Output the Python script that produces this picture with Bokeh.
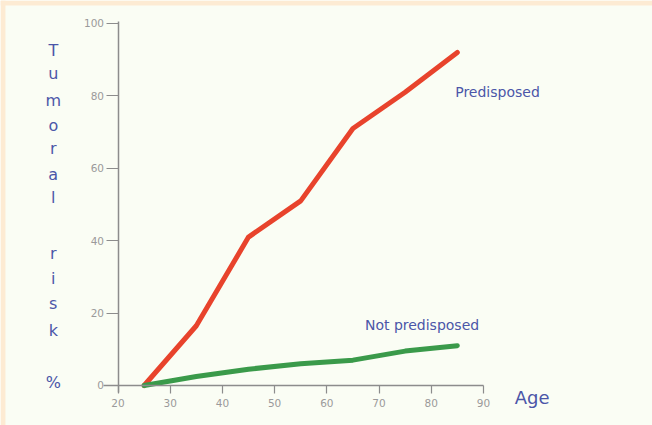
from bokeh.plotting import figure
from bokeh.models import Range1d, FixedTicker, Label, LabelSet, ColumnDataSource, LinearAxis, BoxAnnotation
from bokeh.core.properties import value
from bokeh.embed import file_html
from bokeh.resources import INLINE

# Data
ages = [25, 35, 45, 55, 65, 75, 85]
predisposed = [0, 16.5, 41, 51, 71, 81, 92]
not_predisposed = [0, 2.5, 4.5, 6, 7, 9.5, 11]
x_ticks = [20, 30, 40, 50, 60, 70, 80, 90]
y_ticks = [0, 20, 40, 60, 80, 100]

title_letters = ["T", "u", "m", "o", "r", "a", "l", "r", "i", "s", "k", "%"]
title_letter_y = [92.5, 86.2, 78.7, 71.8, 65.5, 58.3, 51.9, 36.5, 29.6, 22.7, 15.2, 0.8]
title_letter_x = [7.6] * len(title_letters)

BG = "#fafdf4"
BEIGE = "#fdebd3"
TEXT_BLUE = "#4b56a8"
FONT = "DejaVu Sans"

X0, X1 = -2.51, 122.39
Y0, Y1 = -11.05, 106.35

p = figure(width=652, height=425, output_backend="svg", toolbar_location=None,
           x_range=Range1d(X0, X1), y_range=Range1d(Y0, Y1),
           x_axis_location=None, y_axis_location=None, min_border=0)
p.background_fill_color = BG
p.border_fill_color = BG
p.outline_line_color = None
p.grid.grid_line_color = None

# beige frame strips (top and left edges of the original scan)
p.add_layout(BoxAnnotation(top=Y1, bottom=Y1 - 1.4, fill_color=BEIGE, fill_alpha=1, line_color=None, level="underlay"))
p.add_layout(BoxAnnotation(left=X0, right=X0 + 0.95, fill_color=BEIGE, fill_alpha=1, line_color=None, level="underlay"))

xax = LinearAxis(fixed_location=0, bounds=(17.3, 90), ticker=FixedTicker(ticks=x_ticks))
yax = LinearAxis(fixed_location=20, bounds=(-2, 100.5), ticker=FixedTicker(ticks=y_ticks))
for ax in (xax, yax):
    ax.axis_line_color = "#8c8c8c"
    ax.axis_line_width = 1.5
    ax.major_tick_line_color = "#8c8c8c"
    ax.major_tick_line_width = 1.2
    ax.minor_tick_line_color = None
    ax.major_tick_in = 0
    ax.major_label_text_font = FONT
    ax.major_label_text_font_size = "10.5px"
    ax.major_label_text_color = "#9a9a9a"
xax.major_tick_out = 8
xax.major_label_standoff = 6
yax.major_tick_out = 12
yax.major_label_standoff = 2
p.add_layout(xax, "below")
p.add_layout(yax, "left")

p.line(ages, predisposed, line_color="#e8432c", line_width=5, line_cap="round", line_join="round")
p.line(ages, not_predisposed, line_color="#3a9a4a", line_width=5, line_cap="round", line_join="round")

p.add_layout(Label(x=84.6, y=81, text="Predisposed", text_font=FONT,
                   text_font_size="14px", text_color=TEXT_BLUE, text_baseline="middle"))
p.add_layout(Label(x=67.3, y=16.6, text="Not predisposed", text_font=FONT,
                   text_font_size="14px", text_color=TEXT_BLUE, text_baseline="middle"))
p.add_layout(Label(x=96.0, y=-3.3, text="Age", text_font=FONT,
                   text_font_size="18px", text_color=TEXT_BLUE, text_baseline="middle"))

src = ColumnDataSource(dict(x=title_letter_x, y=title_letter_y, t=title_letters))
p.add_layout(LabelSet(x="x", y="y", text="t", source=src, text_font=value(FONT),
                      text_font_size=value("16px"), text_color=TEXT_BLUE, text_align="center",
                      text_baseline="middle"))

open("out.html", "w").write(file_html(p, INLINE))
